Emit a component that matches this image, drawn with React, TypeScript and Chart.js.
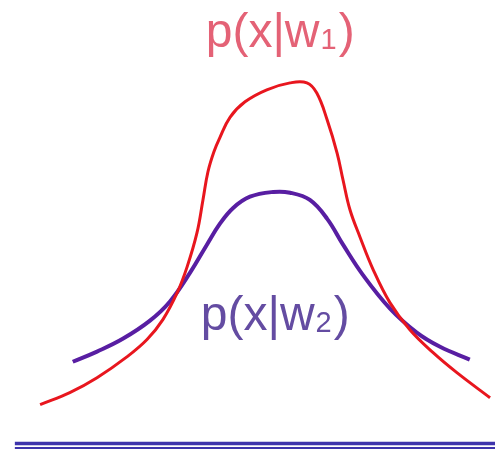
import React, { useEffect, useRef } from "react";
import { Chart, registerables } from "chart.js";

Chart.register(...registerables);

// Class-conditional densities p(x|w1) and p(x|w2)
const xW1 = [-4.19, -3.59, -3.04, -2.43, -2.03, -1.71, -1.42, -1.22, -1.02, -0.9, -0.8, -0.68, -0.56, -0.35, -0.05, 0.39, 0.86, 1.2, 1.4, 1.61, 1.81, 1.93, 2.07, 2.27, 2.54, 2.88, 3.28, 3.75, 4.23, 4.9];
const yW1 = [0.107, 0.14, 0.181, 0.239, 0.286, 0.341, 0.415, 0.486, 0.58, 0.67, 0.747, 0.802, 0.841, 0.898, 0.94, 0.973, 0.992, 0.992, 0.964, 0.89, 0.799, 0.725, 0.643, 0.569, 0.478, 0.387, 0.313, 0.25, 0.195, 0.126];

const xW2 = [-3.53, -3.04, -2.52, -1.97, -1.57, -1.16, -0.82, -0.56, -0.29, 0.05, 0.52, 0.86, 1.26, 1.61, 1.93, 2.33, 2.88, 3.42, 3.89, 4.49];
const yW2 = [0.225, 0.253, 0.288, 0.338, 0.39, 0.47, 0.547, 0.604, 0.648, 0.679, 0.692, 0.69, 0.67, 0.618, 0.547, 0.464, 0.371, 0.305, 0.266, 0.231];

// Curve labels: main text, subscript, anchor (x, y) in data units
const labelW1 = { main: "p(x|w", sub: "1", x: 0.66, y: 1.09 };
const labelW2 = { main: "p(x|w", sub: "2", x: 0.56, y: 0.313 };

const X_MIN = -5;
const X_MAX = 5;
const Y_MIN = -0.015;
const Y_MAX = 1.22;
const BASE_START = -4.7;

const RED = "rgb(232,22,30)";
const PURPLE = "rgb(88,30,162)";
const BLUE = "rgb(62,52,172)";

const toPoints = (xs: number[], ys: number[]) => xs.map((x, i) => ({ x, y: ys[i] }));

const decorations = {
  id: "decorations",
  beforeDatasetsDraw(chart: any) {
    const { ctx, scales, chartArea } = chart;
    const xs = scales.x;
    const ys = scales.y;
    const y0 = ys.getPixelForValue(0);
    const x0 = xs.getPixelForValue(BASE_START);
    ctx.save();
    ctx.strokeStyle = BLUE;
    ctx.lineWidth = 3.5;
    ctx.beginPath();
    ctx.moveTo(x0, y0);
    ctx.lineTo(chartArea.right, y0);
    ctx.stroke();
    ctx.lineWidth = 2;
    ctx.beginPath();
    ctx.moveTo(x0, y0 + 4.5);
    ctx.lineTo(chartArea.right, y0 + 4.5);
    ctx.stroke();
    ctx.restore();
  },
  afterDatasetsDraw(chart: any) {
    const { ctx, scales } = chart;
    const drawLabel = (l: typeof labelW1, color: string) => {
      const cx = scales.x.getPixelForValue(l.x);
      const by = scales.y.getPixelForValue(l.y);
      ctx.save();
      ctx.fillStyle = color;
      ctx.textBaseline = "alphabetic";
      const mainFont = "48px 'Liberation Sans', Arial, sans-serif";
      const subFont = "29px 'Liberation Sans', Arial, sans-serif";
      ctx.font = mainFont;
      const wMain = ctx.measureText(l.main).width;
      const wClose = ctx.measureText(")").width;
      ctx.font = subFont;
      const wSub = ctx.measureText(l.sub).width;
      const total = wMain + wSub + wClose + 3;
      let px = cx - total / 2;
      ctx.font = mainFont;
      ctx.fillText(l.main, px, by);
      px += wMain + 1;
      ctx.font = subFont;
      ctx.fillText(l.sub, px, by + 2);
      px += wSub + 2;
      ctx.font = mainFont;
      ctx.fillText(")", px, by);
      ctx.restore();
    };
    drawLabel(labelW1, "rgb(228,98,118)");
    drawLabel(labelW2, "rgb(100,76,162)");
  },
};

export default function App() {
  const canvasRef = useRef<HTMLCanvasElement | null>(null);

  useEffect(() => {
    if (!canvasRef.current) return;
    const chart = new Chart(canvasRef.current, {
      type: "line",
      data: {
        datasets: [
          {
            label: "p(x|w1)",
            data: toPoints(xW1, yW1),
            borderColor: RED,
            borderWidth: 3,
            pointRadius: 0,
            tension: 0.4,
            fill: false,
          },
          {
            label: "p(x|w2)",
            data: toPoints(xW2, yW2),
            borderColor: PURPLE,
            borderWidth: 4,
            pointRadius: 0,
            tension: 0.4,
            fill: false,
          },
        ],
      },
      options: {
        animation: false,
        responsive: true,
        maintainAspectRatio: false,
        layout: { padding: 0 },
        plugins: {
          legend: { display: false },
          tooltip: { enabled: false },
        },
        scales: {
          x: { type: "linear", min: X_MIN, max: X_MAX, display: false },
          y: { type: "linear", min: Y_MIN, max: Y_MAX, display: false },
        },
      },
      plugins: [decorations],
    });
    return () => chart.destroy();
  }, []);

  return (
    <div
      style={{
        position: "fixed",
        left: 0,
        top: 0,
        width: 495,
        height: 449,
        background: "#ffffff",
      }}
    >
      <canvas ref={canvasRef} />
    </div>
  );
}
